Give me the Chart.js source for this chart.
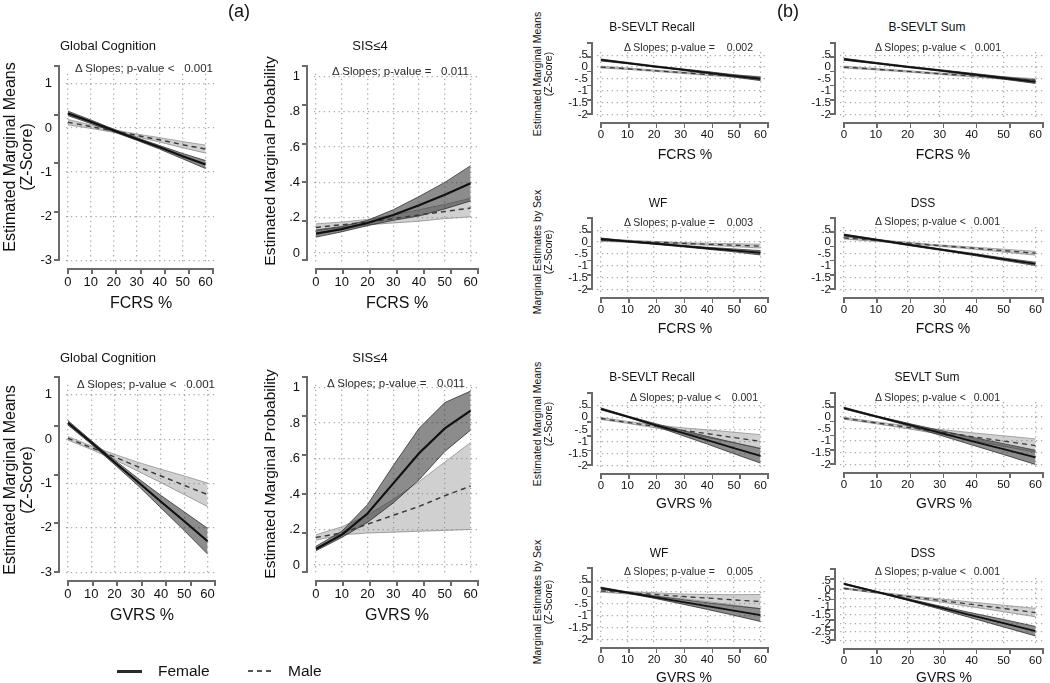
<!DOCTYPE html>
<html>
<head>
<meta charset="utf-8">
<script src="https://cdn.jsdelivr.net/npm/chart.js@4.4.0/dist/chart.umd.min.js"></script>
<style>
html, body { margin: 0; padding: 0; background: #fff; }
#page { position: relative; width: 1050px; height: 683px; overflow: hidden;
        font-family: "Liberation Sans", Arial, Helvetica, sans-serif; color: #111; }
#page canvas { position: absolute; }
.t { position: absolute; white-space: nowrap; line-height: 1; }
.ax { position: absolute; background: #6a6a6a; }
</style>
</head>
<body>
<div id="page"></div>
<script>
// x positions of the margins (percent)
const xVals = [0, 10, 20, 30, 40, 50, 60];
const xTicks = [0, 10, 20, 30, 40, 50, 60];
const zTicksA = [1, 0, -1, -2, -3];
const probTicks = [0, 0.2, 0.4, 0.6, 0.8, 1];
const zTicksB = [0.5, 0, -0.5, -1, -1.5, -2];
const zTicksDss = [0.5, 0, -0.5, -1, -1.5, -2, -2.5, -3];

// (a) Global cognition vs FCRS
const gcFcrsF   = [0.33, 0.14, -0.06, -0.25, -0.44, -0.64, -0.83];
const gcFcrsFLo = [0.28, 0.10, -0.09, -0.28, -0.48, -0.70, -0.92];
const gcFcrsFHi = [0.38, 0.18, -0.03, -0.22, -0.40, -0.58, -0.74];
const gcFcrsM   = [0.13, 0.03, -0.07, -0.17, -0.27, -0.38, -0.48];
const gcFcrsMLo = [0.07, -0.01, -0.10, -0.20, -0.32, -0.45, -0.57];
const gcFcrsMHi = [0.19, 0.07, -0.04, -0.14, -0.22, -0.31, -0.39];

// (a) SIS<=4 vs FCRS
const sisFcrsF   = [0.11, 0.135, 0.17, 0.215, 0.27, 0.33, 0.395];
const sisFcrsFLo = [0.09, 0.12, 0.155, 0.185, 0.21, 0.25, 0.295];
const sisFcrsFHi = [0.13, 0.15, 0.185, 0.245, 0.32, 0.40, 0.495];
const sisFcrsM   = [0.145, 0.16, 0.175, 0.195, 0.215, 0.235, 0.255];
const sisFcrsMLo = [0.125, 0.145, 0.16, 0.17, 0.18, 0.195, 0.205];
const sisFcrsMHi = [0.165, 0.175, 0.19, 0.215, 0.245, 0.275, 0.31];

// (a) Global cognition vs GVRS
const gcGvrsF   = [0.37, -0.07, -0.52, -0.96, -1.41, -1.85, -2.30];
const gcGvrsFLo = [0.32, -0.11, -0.57, -1.04, -1.55, -2.06, -2.59];
const gcGvrsFHi = [0.42, -0.03, -0.47, -0.88, -1.27, -1.64, -2.01];
const gcGvrsM   = [0.02, -0.19, -0.40, -0.62, -0.83, -1.04, -1.25];
const gcGvrsMLo = [-0.02, -0.23, -0.46, -0.72, -0.98, -1.25, -1.52];
const gcGvrsMHi = [0.06, -0.15, -0.34, -0.52, -0.68, -0.83, -0.99];

// (a) SIS<=4 vs GVRS
const sisGvrsF   = [0.09, 0.17, 0.29, 0.46, 0.63, 0.77, 0.87];
const sisGvrsFLo = [0.08, 0.155, 0.24, 0.35, 0.48, 0.64, 0.76];
const sisGvrsFHi = [0.105, 0.19, 0.34, 0.56, 0.77, 0.915, 0.98];
const sisGvrsM   = [0.155, 0.18, 0.23, 0.28, 0.33, 0.39, 0.445];
const sisGvrsMLo = [0.14, 0.17, 0.18, 0.185, 0.19, 0.195, 0.20];
const sisGvrsMHi = [0.17, 0.215, 0.28, 0.37, 0.47, 0.58, 0.69];

// (b) B-SEVLT Recall vs FCRS
const recFcrsF   = [0.30, 0.17, 0.03, -0.10, -0.23, -0.37, -0.50];
const recFcrsFLo = [0.26, 0.14, 0.00, -0.13, -0.27, -0.42, -0.57];
const recFcrsFHi = [0.34, 0.20, 0.06, -0.07, -0.19, -0.32, -0.43];
const recFcrsM   = [0.00, -0.07, -0.15, -0.23, -0.31, -0.38, -0.46];
const recFcrsMLo = [-0.04, -0.10, -0.18, -0.26, -0.35, -0.43, -0.52];
const recFcrsMHi = [0.04, -0.04, -0.12, -0.20, -0.27, -0.33, -0.40];

// (b) B-SEVLT Sum vs FCRS
const sumFcrsF   = [0.33, 0.17, 0.01, -0.14, -0.30, -0.46, -0.62];
const sumFcrsFLo = [0.29, 0.14, -0.02, -0.17, -0.34, -0.51, -0.69];
const sumFcrsFHi = [0.37, 0.20, 0.04, -0.11, -0.26, -0.41, -0.55];
const sumFcrsM   = [0.00, -0.09, -0.18, -0.28, -0.37, -0.46, -0.55];
const sumFcrsMLo = [-0.04, -0.12, -0.21, -0.31, -0.41, -0.51, -0.61];
const sumFcrsMHi = [0.04, -0.06, -0.15, -0.25, -0.33, -0.41, -0.49];

// (b) WF vs FCRS
const wfFcrsF   = [0.13, 0.03, -0.06, -0.16, -0.26, -0.35, -0.45];
const wfFcrsFLo = [0.09, 0.00, -0.09, -0.19, -0.30, -0.41, -0.54];
const wfFcrsFHi = [0.17, 0.06, -0.03, -0.13, -0.22, -0.29, -0.36];
const wfFcrsM   = [0.08, 0.04, 0.00, -0.05, -0.09, -0.13, -0.17];
const wfFcrsMLo = [0.03, 0.00, -0.03, -0.08, -0.13, -0.19, -0.25];
const wfFcrsMHi = [0.13, 0.08, 0.03, -0.02, -0.05, -0.07, -0.09];

// (b) DSS vs FCRS
const dssFcrsF   = [0.30, 0.10, -0.11, -0.31, -0.51, -0.72, -0.92];
const dssFcrsFLo = [0.26, 0.07, -0.14, -0.34, -0.55, -0.77, -0.99];
const dssFcrsFHi = [0.34, 0.13, -0.08, -0.28, -0.47, -0.67, -0.85];
const dssFcrsM   = [0.18, 0.07, -0.04, -0.15, -0.25, -0.36, -0.47];
const dssFcrsMLo = [0.13, 0.03, -0.07, -0.18, -0.29, -0.42, -0.55];
const dssFcrsMHi = [0.23, 0.11, -0.01, -0.12, -0.21, -0.30, -0.39];

// (b) B-SEVLT Recall vs GVRS
const recGvrsF   = [0.35, 0.03, -0.30, -0.63, -0.95, -1.28, -1.60];
const recGvrsFLo = [0.31, 0.00, -0.35, -0.73, -1.11, -1.51, -1.90];
const recGvrsFHi = [0.39, 0.06, -0.25, -0.53, -0.79, -1.05, -1.30];
const recGvrsM   = [-0.05, -0.21, -0.37, -0.53, -0.68, -0.84, -1.00];
const recGvrsMLo = [-0.09, -0.25, -0.43, -0.63, -0.84, -1.06, -1.28];
const recGvrsMHi = [-0.01, -0.17, -0.31, -0.43, -0.52, -0.62, -0.72];

// (b) SEVLT Sum vs GVRS
const sumGvrsF   = [0.38, 0.03, -0.31, -0.66, -1.01, -1.35, -1.70];
const sumGvrsFLo = [0.34, 0.00, -0.36, -0.76, -1.17, -1.58, -2.00];
const sumGvrsFHi = [0.42, 0.06, -0.26, -0.56, -0.85, -1.12, -1.40];
const sumGvrsM   = [-0.05, -0.24, -0.43, -0.62, -0.82, -1.01, -1.20];
const sumGvrsMLo = [-0.09, -0.28, -0.49, -0.72, -0.98, -1.23, -1.48];
const sumGvrsMHi = [-0.01, -0.20, -0.37, -0.52, -0.66, -0.79, -0.92];

// (b) WF vs GVRS
const wfGvrsF   = [0.17, -0.02, -0.21, -0.40, -0.59, -0.78, -0.97];
const wfGvrsFLo = [0.13, -0.05, -0.26, -0.49, -0.73, -0.98, -1.24];
const wfGvrsFHi = [0.21, 0.01, -0.16, -0.31, -0.45, -0.58, -0.70];
const wfGvrsM   = [0.05, -0.03, -0.10, -0.18, -0.25, -0.33, -0.40];
const wfGvrsMLo = [0.00, -0.08, -0.17, -0.28, -0.40, -0.55, -0.70];
const wfGvrsMHi = [0.10, 0.02, -0.03, -0.08, -0.10, -0.11, -0.10];

// (b) DSS vs GVRS
const dssGvrsF   = [0.35, -0.12, -0.58, -1.05, -1.52, -1.98, -2.45];
const dssGvrsFLo = [0.31, -0.15, -0.63, -1.14, -1.67, -2.20, -2.73];
const dssGvrsFHi = [0.39, -0.09, -0.53, -0.96, -1.37, -1.76, -2.17];
const dssGvrsM   = [0.08, -0.16, -0.40, -0.63, -0.87, -1.11, -1.35];
const dssGvrsMLo = [0.04, -0.20, -0.46, -0.72, -1.01, -1.30, -1.60];
const dssGvrsMHi = [0.12, -0.12, -0.34, -0.54, -0.73, -0.92, -1.10];

const fam = '"Liberation Sans", Arial, Helvetica, sans-serif';
Chart.defaults.font.family = fam;

// layout: pixel positions of x=0, x=60 and of the top/bottom y tick
const panels = [
  { big: true, title: 'Global Cognition', tX: 108, tY: 45, yTicks: zTicksA,
    d: [gcFcrsF, gcFcrsFLo, gcFcrsFHi, gcFcrsM, gcFcrsMLo, gcFcrsMHi],
    px0: 68, px60: 213, pyTop: 66, pyBot: 260,
    pText: 'Δ Slopes; p-value <', pVal: '0.001', pX: 75, pValX: 213, pY: 69,
    xTitle: 'FCRS %', xtX: 141, xtY: 303 },
  { big: true, title: 'SIS≤4', tX: 370, tY: 45, yTicks: probTicks,
    d: [sisFcrsF, sisFcrsFLo, sisFcrsFHi, sisFcrsM, sisFcrsMLo, sisFcrsMHi],
    px0: 316, px60: 478, pyTop: 66, pyBot: 260,
    pText: 'Δ Slopes; p-value =', pVal: '0.011', pX: 332, pValX: 469, pY: 72,
    xTitle: 'FCRS %', xtX: 397, xtY: 303 },
  { big: true, title: 'Global Cognition', tX: 108, tY: 357, yTicks: zTicksA,
    d: [gcGvrsF, gcGvrsFLo, gcGvrsFHi, gcGvrsM, gcGvrsMLo, gcGvrsMHi],
    px0: 68, px60: 215, pyTop: 377, pyBot: 572,
    pText: 'Δ Slopes; p-value <', pVal: '0.001', pX: 77, pValX: 215, pY: 385,
    xTitle: 'GVRS %', xtX: 142, xtY: 615 },
  { big: true, title: 'SIS≤4', tX: 370, tY: 357, yTicks: probTicks,
    d: [sisGvrsF, sisGvrsFLo, sisGvrsFHi, sisGvrsM, sisGvrsMLo, sisGvrsMHi],
    px0: 316, px60: 478, pyTop: 377, pyBot: 572,
    pText: 'Δ Slopes; p-value =', pVal: '0.011', pX: 327, pValX: 465, pY: 384,
    xTitle: 'GVRS %', xtX: 397, xtY: 615 },

  { big: false, title: 'B-SEVLT Recall', tX: 652, tY: 27, yTicks: zTicksB,
    d: [recFcrsF, recFcrsFLo, recFcrsFHi, recFcrsM, recFcrsMLo, recFcrsMHi],
    px0: 601, px60: 768, pyTop: 43, pyBot: 114,
    pText: 'Δ Slopes; p-value =', pVal: '0.002', pX: 624, pValX: 753, pY: 47,
    xTitle: 'FCRS %', xtX: 685, xtY: 154 },
  { big: false, title: 'B-SEVLT Sum', tX: 927, tY: 27, yTicks: zTicksB,
    d: [sumFcrsF, sumFcrsFLo, sumFcrsFHi, sumFcrsM, sumFcrsMLo, sumFcrsMHi],
    px0: 844, px60: 1043, pyTop: 43, pyBot: 114,
    pText: 'Δ Slopes; p-value <', pVal: '0.001', pX: 875, pValX: 1001, pY: 47,
    xTitle: 'FCRS %', xtX: 943, xtY: 154 },
  { big: false, title: 'WF', tX: 658, tY: 203, yTicks: zTicksB,
    d: [wfFcrsF, wfFcrsFLo, wfFcrsFHi, wfFcrsM, wfFcrsMLo, wfFcrsMHi],
    px0: 601, px60: 768, pyTop: 218, pyBot: 289,
    pText: 'Δ Slopes; p-value =', pVal: '0.003', pX: 624, pValX: 753, pY: 222,
    xTitle: 'FCRS %', xtX: 685, xtY: 328 },
  { big: false, title: 'DSS', tX: 923, tY: 203, yTicks: zTicksB,
    d: [dssFcrsF, dssFcrsFLo, dssFcrsFHi, dssFcrsM, dssFcrsMLo, dssFcrsMHi],
    px0: 844, px60: 1043, pyTop: 218, pyBot: 289,
    pText: 'Δ Slopes; p-value <', pVal: '0.001', pX: 875, pValX: 1000, pY: 221,
    xTitle: 'FCRS %', xtX: 943, xtY: 328 },
  { big: false, title: 'B-SEVLT Recall', tX: 652, tY: 377, yTicks: zTicksB,
    d: [recGvrsF, recGvrsFLo, recGvrsFHi, recGvrsM, recGvrsMLo, recGvrsMHi],
    px0: 601, px60: 768, pyTop: 393, pyBot: 465,
    pText: 'Δ Slopes; p-value <', pVal: '0.001', pX: 630, pValX: 758, pY: 397,
    xTitle: 'GVRS %', xtX: 684, xtY: 503 },
  { big: false, title: 'SEVLT Sum', tX: 927, tY: 377, yTicks: zTicksB,
    d: [sumGvrsF, sumGvrsFLo, sumGvrsFHi, sumGvrsM, sumGvrsMLo, sumGvrsMHi],
    px0: 844, px60: 1043, pyTop: 393, pyBot: 464,
    pText: 'Δ Slopes; p-value <', pVal: '0.001', pX: 875, pValX: 1000, pY: 397,
    xTitle: 'GVRS %', xtX: 944, xtY: 503 },
  { big: false, title: 'WF', tX: 659, tY: 553, yTicks: zTicksB,
    d: [wfGvrsF, wfGvrsFLo, wfGvrsFHi, wfGvrsM, wfGvrsMLo, wfGvrsMHi],
    px0: 601, px60: 768, pyTop: 568, pyBot: 639,
    pText: 'Δ Slopes; p-value =', pVal: '0.005', pX: 624, pValX: 753, pY: 571,
    xTitle: 'GVRS %', xtX: 684, xtY: 677 },
  { big: false, title: 'DSS', tX: 923, tY: 553, yTicks: zTicksDss,
    d: [dssGvrsF, dssGvrsFLo, dssGvrsFHi, dssGvrsM, dssGvrsMLo, dssGvrsMHi],
    px0: 844, px60: 1043, pyTop: 569, pyBot: 640,
    pText: 'Δ Slopes; p-value <', pVal: '0.001', pX: 875, pValX: 1000, pY: 571,
    xTitle: 'GVRS %', xtX: 944, xtY: 677 }
];

const yTitles = [
  { lines: ['Estimated Marginal Means', '(Z-Score)'], xs: [10, 27], y: 157, size: 16 },
  { lines: ['Estimated Marginal Probability'], xs: [270], y: 161, size: 15.5 },
  { lines: ['Estimated Marginal Means', '(Z-Score)'], xs: [10, 27], y: 480, size: 16 },
  { lines: ['Estimated Marginal Probability'], xs: [270], y: 474, size: 15.5 },
  { lines: ['Estimated Marginal Means', '(Z-Score)'], xs: [537, 548], y: 74, size: 10.5 },
  { lines: ['Marginal Estimates by Sex', '(Z-Score)'], xs: [537, 548], y: 252, size: 10.5 },
  { lines: ['Estimated Marginal Means', '(Z-Score)'], xs: [537, 548], y: 424, size: 10.5 },
  { lines: ['Marginal Estimates by Sex', '(Z-Score)'], xs: [537, 548], y: 602, size: 10.5 }
];

const page = document.getElementById('page');

function addText(text, x, y, o) {
  o = o || {};
  const d = document.createElement('div');
  d.className = 't';
  d.textContent = text;
  d.style.fontSize = (o.size || 12) + 'px';
  if (o.color) d.style.color = o.color;
  d.style.left = x + 'px';
  d.style.top = y + 'px';
  const ax = o.align === 'left' ? '0' : (o.align === 'right' ? '-100%' : '-50%');
  d.style.transform = 'translate(' + ax + ', -50%)' + (o.rot ? ' rotate(-90deg)' : '');
  page.appendChild(d);
  return d;
}

function bar(x, y, w, h) {
  const d = document.createElement('div');
  d.className = 'ax';
  d.style.left = x + 'px';
  d.style.top = y + 'px';
  d.style.width = w + 'px';
  d.style.height = h + 'px';
  page.appendChild(d);
}

function fmtTick(v) {
  return String(v).replace(/^(-?)0\./, '$1.');
}

// Stata-like offset axes (frame only), from the same layout that fixes the scales
function stataAxes(p, yGap, xGap, len, lw) {
  const yTop = p.yTicks[0], yBot = p.yTicks[p.yTicks.length - 1];
  const yppu = (p.pyBot - p.pyTop) / (yTop - yBot);
  const xppu = (p.px60 - p.px0) / 60;
  const padL = p.big ? 2 : 4, padB = 3;
  const ax = p.px0 - padL - yGap;
  const yp = p.yTicks.map(v => p.pyTop + (yTop - v) * yppu);
  bar(ax - lw / 2, p.pyTop - lw / 2, lw, p.pyBot - p.pyTop + lw);
  yp.forEach(q => bar(ax - len, q - lw / 2, len, lw));
  const ay = p.pyBot + padB + xGap;
  const xp = xTicks.map(v => p.px0 + v * xppu);
  bar(p.px0 - lw / 2, ay - lw / 2, p.px60 - p.px0 + lw, lw);
  xp.forEach(q => bar(q - lw / 2, ay, lw, len));
}

function pts(arr) {
  return xVals.map((x, i) => ({ x: x, y: arr[i] }));
}

function makePanel(p) {
  const big = p.big;
  const padL = big ? 2 : 4, padR = big ? 9 : 7, padT = big ? 11 : 4, padB = 3;
  const yTop = p.yTicks[0], yBot = p.yTicks[p.yTicks.length - 1];
  const xppu = (p.px60 - p.px0) / 60;
  const yppu = (p.pyBot - p.pyTop) / (yTop - yBot);
  const L = p.px0 - padL, R = p.px60 + padR, T = p.pyTop - padT, B = p.pyBot + padB;
  const yW = big ? 40 : 30, xH = big ? 30 : 24, pad = 3;

  const cv = document.createElement('canvas');
  cv.width = yW + (R - L) + pad;
  cv.height = pad + (B - T) + xH;
  const offX = L - yW, offY = T - pad;
  cv.style.left = offX + 'px';
  cv.style.top = offY + 'px';
  page.appendChild(cv);

  const [f, fLo, fHi, m, mLo, mHi] = p.d;
  const line = { pointRadius: 0, tension: 0 };
  const tickFont = { family: fam, size: big ? 13 : 11.5 };
  const gridColor = '#ababab';

  new Chart(cv.getContext('2d'), {
    type: 'line',
    data: {
      datasets: [
        Object.assign({ label: 'Female', data: pts(f), borderColor: '#111', borderWidth: big ? 2.2 : 1.8, fill: false }, line),
        Object.assign({ label: 'Male', data: pts(m), borderColor: '#3a3a3a', borderWidth: big ? 1.5 : 1.3, borderDash: [5, 4], fill: false }, line),
        Object.assign({ label: 'Female CI upper', data: pts(fHi), borderColor: '#444', borderWidth: 0.9, fill: '+1', backgroundColor: 'rgba(45,45,45,0.55)' }, line),
        Object.assign({ label: 'Female CI lower', data: pts(fLo), borderColor: '#444', borderWidth: 0.9, fill: false }, line),
        Object.assign({ label: 'Male CI upper', data: pts(mHi), borderColor: '#9c9c9c', borderWidth: 0.9, fill: '+1', backgroundColor: 'rgba(120,120,120,0.35)' }, line),
        Object.assign({ label: 'Male CI lower', data: pts(mLo), borderColor: '#9c9c9c', borderWidth: 0.9, fill: false }, line)
      ]
    },
    options: {
      responsive: false,
      animation: false,
      devicePixelRatio: 1,
      layout: { padding: { top: pad, right: pad, left: 0, bottom: 0 } },
      plugins: {
        legend: { display: false },
        tooltip: { enabled: false }
      },
      scales: {
        x: {
          type: 'linear',
          min: -padL / xppu,
          max: 60 + padR / xppu,
          afterBuildTicks: s => { s.ticks = xTicks.map(v => ({ value: v })); },
          afterFit: s => { s.height = xH; },
          grid: { color: gridColor, lineWidth: 1.3, drawTicks: false },
          border: { display: false, dash: [1.3, 3.6] },
          ticks: { padding: big ? 12 : 11, color: '#111', font: tickFont, maxRotation: 0, autoSkip: false,
                   callback: v => String(v) }
        },
        y: {
          type: 'linear',
          min: yBot - padB / yppu,
          max: yTop + padT / yppu,
          afterBuildTicks: s => { s.ticks = p.yTicks.map(v => ({ value: v })); },
          afterFit: s => { s.width = yW; },
          grid: { color: gridColor, lineWidth: 1.3, drawTicks: false },
          border: { display: false, dash: [1.3, 3.6] },
          ticks: { padding: big ? 14 : 9, color: '#111', font: tickFont, autoSkip: false,
                   callback: v => fmtTick(v) }
        }
      }
    }
  });

  stataAxes(p, big ? 7 : 5, 6, 5, big ? 2 : 1.6);

  addText(p.title, p.tX, p.tY, { size: big ? 13 : 12 });
  addText(p.pText, p.pX, p.pY, { size: big ? 11.5 : 10.5, align: 'left', color: '#2a2a2a' });
  addText(p.pVal, p.pValX, p.pY, { size: big ? 11.5 : 10.5, align: 'right', color: '#2a2a2a' });
  addText(p.xTitle, p.xtX, p.xtY, { size: big ? 16 : 14 });
}

panels.forEach(makePanel);

yTitles.forEach(t => {
  t.lines.forEach((s, i) => addText(s, t.xs[i], t.y, { size: t.size, rot: true }));
});

addText('(a)', 239, 11, { size: 18 });
addText('(b)', 788, 11, { size: 18 });

// shared legend
function legendKey(x, y, w, dashed) {
  const d = document.createElement('div');
  d.style.position = 'absolute';
  d.style.left = x + 'px';
  d.style.top = (y - 1) + 'px';
  d.style.width = w + 'px';
  d.style.height = dashed ? '2px' : '3px';
  d.style.background = dashed
    ? 'repeating-linear-gradient(90deg, #555 0 5px, transparent 5px 9px)'
    : '#2a2a2a';
  page.appendChild(d);
}
legendKey(117, 671, 25, false);
addText('Female', 158, 671, { size: 15.5, align: 'left' });
legendKey(248, 671, 24, true);
addText('Male', 288, 671, { size: 15.5, align: 'left' });
</script>
</body>
</html>
